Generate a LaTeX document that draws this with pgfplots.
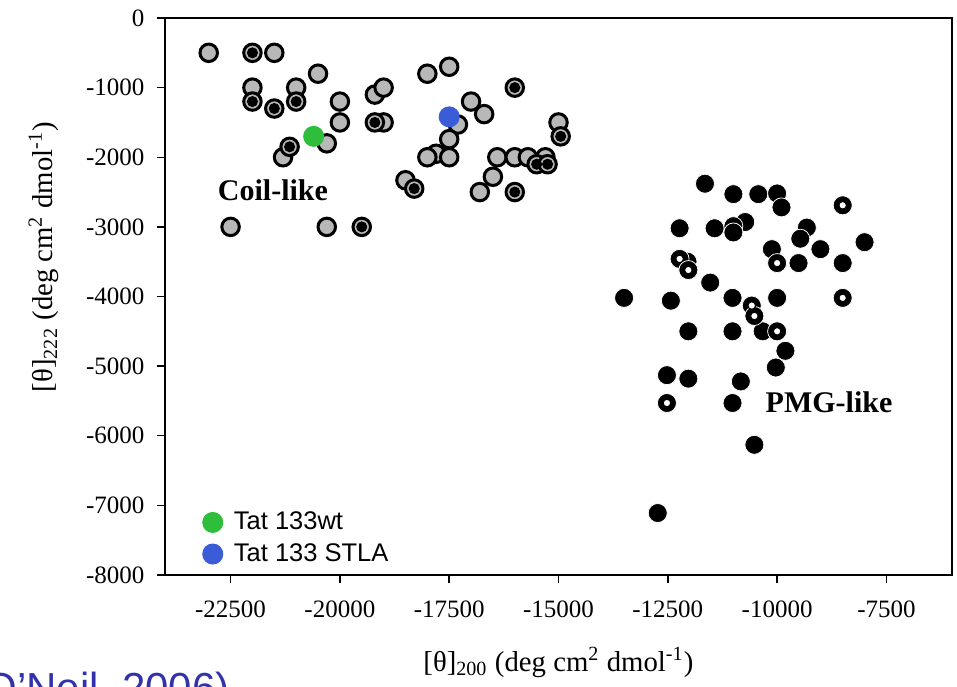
\documentclass[border=0pt]{standalone}
\usepackage{fontspec}
\setmainfont{Liberation Serif}
\newfontfamily\legfont{Liberation Sans}
\usepackage{pgfplots}
\pgfplotsset{compat=1.18}
\definecolor{tatgreen}{RGB}{46,190,60}
\definecolor{tatblue}{RGB}{58,92,214}
\definecolor{citeblue}{RGB}{50,50,170}
\definecolor{stipple}{gray}{0.72}

\pgfplotsset{
  coil/.style={only marks, mark=*, mark size=3.5pt, forget plot,
    mark options={fill=stipple, draw=black, line width=1.2pt}},
  coilcore/.style={only marks, mark=*, mark size=2pt, forget plot,
    mark options={fill=black, draw=none}},
  pmg/.style={only marks, mark=*, mark size=3.8pt, forget plot,
    mark options={fill=black, draw=white, line width=0.3pt}},
  ringhole/.style={only marks, mark=*, mark size=1.5pt, forget plot,
    mark options={fill=white, draw=none}},
  tat/.style={only marks, mark=*, mark size=4pt, color=#1,
    mark options={fill=#1, draw=none},
    legend image code/.code={\path (0cm,0cm) (0.44cm,0cm);
      \draw[##1] plot coordinates {(0.22cm,0cm)};}},
}

\begin{document}
\begin{tikzpicture}
\begin{axis}[
  scale only axis, width=314.8pt, height=222.8pt,
  xmin=-24000, xmax=-6000, ymin=-8000, ymax=0,
  xtick={-22500,-20000,...,-7500}, ytick={-8000,-7000,...,0},
  scaled x ticks=false, scaled y ticks=false,
  tick pos=left, tick align=outside, major tick length=3.2pt,
  axis line style={line width=0.6pt},
  every tick/.style={black, line width=0.6pt},
  /pgf/number format/assume math mode=true,
  /pgf/number format/1000 sep={},
  tick label style={font=\fontsize{10}{12}\selectfont},
  xticklabel style={yshift=-3.5pt},
  yticklabel style={xshift=-1.5pt},
  label style={font=\fontsize{11.5}{13}\selectfont},
  xlabel={[θ]\textsubscript{200} (deg cm\textsuperscript{2} dmol\textsuperscript{-1})},
  ylabel={[θ]\textsubscript{222} (deg cm\textsuperscript{2} dmol\textsuperscript{-1})},
  ylabel style={at={(ticklabel cs:0.571)}},
  xlabel shift=5pt, ylabel shift=4pt,
  legend style={at={(axis cs:-23460,-6940)}, anchor=north west, draw=none, fill=none,
    font=\legfont\fontsize{10.2}{11.5}\selectfont, legend cell align=left},
  clip=false,
]
% coil-like, stippled
\addplot[coil] coordinates {
(-23000,-500) (-21500,-500) (-20500,-800) (-22000,-1000) (-21000,-1000)
(-20000,-1200) (-20000,-1500) (-19200,-1100) (-19000,-1000) (-19000,-1500)
(-20300,-1800) (-21300,-2000) (-18000,-800) (-17500,-700) (-17000,-1200)
(-16700,-1380) (-17300,-1530) (-17500,-1740) (-15000,-1500) (-17800,-1950)
(-18000,-2000) (-17500,-2000) (-16400,-2000) (-16000,-2000) (-15700,-2000)
(-15300,-2000) (-16500,-2280) (-16800,-2500) (-18500,-2330) (-22500,-3000)
(-20300,-3000)
};
% coil-like, with black centre
\addplot[coil] coordinates {
(-22000,-500) (-22000,-1200) (-21500,-1300) (-21000,-1200) (-19200,-1500)
(-21150,-1850) (-18300,-2450) (-19500,-3000) (-16000,-1000) (-14950,-1700)
(-16000,-2500) (-15500,-2100) (-15250,-2100)
};
\addplot[coilcore] coordinates {
(-22000,-500) (-22000,-1200) (-21500,-1300) (-21000,-1200) (-19200,-1500)
(-21150,-1850) (-18300,-2450) (-19500,-3000) (-16000,-1000) (-14950,-1700)
(-16000,-2500) (-15500,-2100) (-15250,-2100)
};
% PMG-like, filled
\addplot[pmg] coordinates {
(-11650,-2380) (-11000,-2530) (-10430,-2530) (-10000,-2520) (-9900,-2720)
(-12230,-3020) (-11430,-3020) (-10730,-2930) (-11000,-2990) (-11000,-3080)
(-9320,-3010) (-9470,-3170) (-9010,-3320) (-8000,-3220) (-10120,-3320)
(-9510,-3520) (-8500,-3520) (-12050,-3500) (-11530,-3800) (-13500,-4020)
(-12430,-4060) (-11020,-4020) (-10000,-4020) (-12030,-4500) (-11020,-4500)
(-10330,-4500) (-9810,-4780) (-10030,-5020) (-12520,-5130) (-12030,-5180)
(-10830,-5220) (-11020,-5530) (-10520,-6130) (-12730,-7110)
};
% PMG-like, open
\addplot[pmg] coordinates {
(-8500,-2690) (-12230,-3460) (-12030,-3620) (-10000,-3520) (-10580,-4130)
(-10520,-4280) (-8500,-4020) (-10000,-4500) (-12520,-5530)
};
\addplot[ringhole] coordinates {
(-8500,-2690) (-12230,-3460) (-12030,-3620) (-10000,-3520) (-10580,-4130)
(-10520,-4280) (-8500,-4020) (-10000,-4500) (-12520,-5530)
};
\addplot[tat=tatgreen] coordinates {(-20600,-1700)};
\addlegendentry{Tat 133wt}
\addplot[tat=tatblue] coordinates {(-17500,-1420)};
\addlegendentry{Tat 133 STLA}
\node[anchor=base west, inner sep=0pt, font=\fontsize{12}{14}\selectfont\bfseries]
  at (axis cs:-22800,-2614) {Coil-like};
\node[anchor=base west, inner sep=0pt, font=\fontsize{12}{14}\selectfont\bfseries]
  at (axis cs:-10272,-5673) {PMG-like};
\end{axis}
\node[anchor=base west, inner sep=0pt, text=citeblue, font=\legfont\fontsize{16.8}{20}\selectfont]
  at (-78pt,-51.2pt) {(O’Neil, 2006)};
\pgfresetboundingbox
\path[use as bounding box] (-66pt,-44.8pt) rectangle (316.8pt,230pt);
\end{tikzpicture}
\end{document}
